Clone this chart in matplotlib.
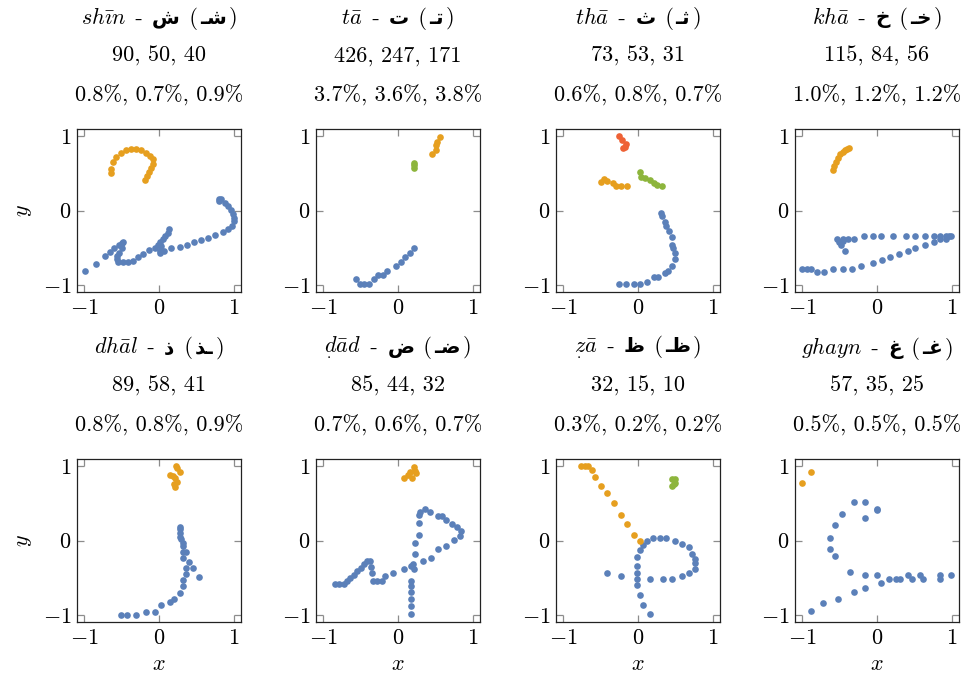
import numpy as np
import matplotlib
matplotlib.use("Agg")
import matplotlib.pyplot as plt
from matplotlib.offsetbox import TextArea, HPacker, AnchoredOffsetbox

plt.rcParams['mathtext.fontset'] = 'cm'
plt.rcParams['axes.unicode_minus'] = False

BLUE = '#5b80b9'
ORANGE = '#e69f1f'
GREEN = '#8db53c'
RED = '#ee6135'
stroke_colors = [BLUE, ORANGE, GREEN, RED]

# ---- letter names, counts, shares ----
names = [r'$sh\bar{\imath}n$', r'$t\bar{a}$', r'$th\bar{a}$', r'$kh\bar{a}$',
         r'$dh\bar{a}l$', r'$\underset{.}{d}\bar{a}d$', r'$\underset{.}{z}\bar{a}$', r'$ghayn$']
isolated = ['\uFEB5', '\uFE95', '\uFE99', '\uFEA5', '\uFEAB', '\uFEBD', '\uFEC5', '\uFECD']
# shaped forms written in visual (left-to-right) order
joined = ['\u0640\uFEB7', '\u0640\uFE97', '\u0640\uFE9B', '\u0640\uFEA7',
          '\uFEAC\u0640', '\u0640\uFEBF', '\u0640\uFEC7', '\u0640\uFECF']
counts = ['90, 50, 40', '426, 247, 171', '73, 53, 31', '115, 84, 56',
          '89, 58, 41', '85, 44, 32', '32, 15, 10', '57, 35, 25']
shares = ['0.8%, 0.7%, 0.9%', '3.7%, 3.6%, 3.8%', '0.6%, 0.8%, 0.7%', '1.0%, 1.2%, 1.2%',
          '0.8%, 0.8%, 0.9%', '0.7%, 0.6%, 0.7%', '0.3%, 0.2%, 0.2%', '0.5%, 0.5%, 0.5%']

# ---- strokes (x, y) ----
shin_1 = [(-0.99, -0.82), (-0.85, -0.72), (-0.73, -0.61), (-0.66, -0.56), (-0.61, -0.50),
          (-0.54, -0.47), (-0.50, -0.44), (-0.48, -0.42), (-0.50, -0.50), (-0.53, -0.57),
          (-0.56, -0.62), (-0.57, -0.66), (-0.55, -0.69), (-0.48, -0.70), (-0.42, -0.70),
          (-0.35, -0.68), (-0.28, -0.63), (-0.22, -0.59), (-0.13, -0.53), (-0.06, -0.50),
          (-0.02, -0.47), (0.02, -0.43), (0.05, -0.39), (0.08, -0.34), (0.12, -0.30),
          (0.14, -0.25), (0.03, -0.48), (0.01, -0.54), (0.02, -0.57), (0.07, -0.54),
          (0.16, -0.51), (0.28, -0.49), (0.37, -0.47), (0.47, -0.43), (0.56, -0.40),
          (0.66, -0.37), (0.75, -0.33), (0.86, -0.29), (0.92, -0.25), (0.98, -0.21),
          (1.01, -0.14), (1.01, -0.10), (0.99, -0.05), (0.96, 0.01), (0.92, 0.06),
          (0.88, 0.10), (0.83, 0.15), (0.81, 0.16), (0.80, 0.13)]
shin_2 = [(-0.64, 0.51), (-0.64, 0.56), (-0.62, 0.65), (-0.58, 0.72), (-0.51, 0.78),
          (-0.44, 0.81), (-0.37, 0.83), (-0.31, 0.83), (-0.24, 0.82), (-0.17, 0.78),
          (-0.12, 0.74), (-0.08, 0.69), (-0.08, 0.63), (-0.11, 0.57), (-0.14, 0.52),
          (-0.16, 0.46), (-0.19, 0.41)]

ta_1 = [(-0.56, -0.93), (-0.51, -0.99), (-0.45, -0.99), (-0.39, -0.99), (-0.32, -0.93),
        (-0.27, -0.87), (-0.20, -0.87), (-0.15, -0.81), (-0.03, -0.75), (0.04, -0.69),
        (0.10, -0.63), (0.16, -0.57), (0.21, -0.51)]
ta_2 = [(0.46, 0.76), (0.51, 0.81), (0.51, 0.88), (0.52, 0.93), (0.57, 0.99)]
ta_3 = [(0.21, 0.64), (0.21, 0.61), (0.21, 0.58)]

tha_1 = [(-0.26, -0.99), (-0.16, -0.99), (-0.06, -0.99), (0.03, -0.99), (0.12, -0.96),
         (0.21, -0.90), (0.27, -0.90), (0.36, -0.84), (0.40, -0.81), (0.46, -0.75),
         (0.50, -0.66), (0.50, -0.57), (0.47, -0.50), (0.46, -0.46), (0.46, -0.36),
         (0.41, -0.27), (0.38, -0.21), (0.36, -0.15), (0.32, -0.08), (0.31, -0.04)]
tha_2 = [(-0.50, 0.39), (-0.46, 0.43), (-0.41, 0.40), (-0.34, 0.37), (-0.30, 0.33),
         (-0.23, 0.33), (-0.15, 0.33)]
tha_3 = [(0.03, 0.52), (0.04, 0.45), (0.10, 0.44), (0.16, 0.41), (0.21, 0.37),
         (0.26, 0.34), (0.32, 0.33)]
tha_4 = [(-0.26, 1.00), (-0.21, 0.95), (-0.16, 0.90), (-0.20, 0.85), (-0.17, 0.86)]

kha_1 = [(-1.00, -0.79), (-0.94, -0.79), (-0.88, -0.79), (-0.80, -0.83), (-0.71, -0.83),
         (-0.59, -0.79), (-0.46, -0.79), (-0.34, -0.79), (-0.22, -0.75), (-0.06, -0.71),
         (0.07, -0.67), (0.18, -0.63), (0.30, -0.59), (0.42, -0.55), (0.51, -0.50),
         (0.64, -0.47), (0.76, -0.43), (0.84, -0.39), (0.92, -0.38), (0.97, -0.35),
         (0.99, -0.35), (0.92, -0.35), (0.84, -0.35), (0.76, -0.35), (0.64, -0.35),
         (0.51, -0.35), (0.39, -0.35), (0.22, -0.35), (0.06, -0.35), (-0.06, -0.35),
         (-0.18, -0.35), (-0.31, -0.38), (-0.39, -0.38), (-0.45, -0.38), (-0.54, -0.38),
         (-0.51, -0.43), (-0.48, -0.47), (-0.43, -0.55), (-0.45, -0.41)]
kha_2 = [(-0.59, 0.55), (-0.58, 0.60), (-0.55, 0.65), (-0.52, 0.71), (-0.50, 0.76),
         (-0.46, 0.79), (-0.43, 0.81), (-0.40, 0.83), (-0.38, 0.84)]

dhal_1 = [(-0.51, -1.00), (-0.43, -1.00), (-0.31, -1.00), (-0.18, -0.96), (-0.06, -0.96),
          (0.03, -0.87), (0.15, -0.83), (0.20, -0.79), (0.28, -0.71), (0.32, -0.62),
          (0.32, -0.53), (0.36, -0.45), (0.36, -0.37), (0.45, -0.37), (0.53, -0.49),
          (0.40, -0.29), (0.36, -0.16), (0.32, -0.16), (0.32, -0.24), (0.32, -0.08),
          (0.32, -0.03), (0.30, 0.02), (0.28, 0.05), (0.28, 0.10), (0.28, 0.15), (0.28, 0.18)]
dhal_2 = [(0.21, 0.72), (0.20, 0.76), (0.24, 0.79), (0.21, 0.84), (0.15, 0.89),
          (0.28, 0.92), (0.24, 0.98), (0.23, 1.01), (0.19, 0.87)]

dad_1 = [(-0.84, -0.59), (-0.79, -0.59), (-0.73, -0.59), (-0.68, -0.55), (-0.64, -0.50),
         (-0.59, -0.46), (-0.55, -0.41), (-0.50, -0.37), (-0.46, -0.32), (-0.42, -0.28),
         (-0.38, -0.28), (-0.36, -0.36), (-0.35, -0.44), (-0.34, -0.54), (-0.28, -0.54),
         (-0.22, -0.54), (-0.17, -0.48), (-0.07, -0.44), (0.08, -0.38), (0.18, -0.34),
         (0.22, -0.38), (0.33, -0.28), (0.44, -0.23), (0.53, -0.12), (0.64, -0.08),
         (0.75, 0.01), (0.83, 0.06), (0.84, 0.13), (0.79, 0.18), (0.72, 0.22),
         (0.65, 0.27), (0.59, 0.33), (0.53, 0.33), (0.43, 0.39), (0.36, 0.43),
         (0.30, 0.39), (0.28, 0.34), (0.28, 0.23), (0.28, 0.08), (0.23, -0.04),
         (0.23, -0.18), (0.20, -0.32), (0.18, -0.54), (0.18, -0.61), (0.18, -0.69),
         (0.18, -0.79), (0.18, -0.89), (0.18, -0.99)]
dad_2 = [(0.08, 0.84), (0.13, 0.89), (0.16, 0.93), (0.21, 0.99), (0.23, 0.94),
         (0.19, 0.84), (0.24, 0.91)]

za_1 = [(0.07, -0.06), (0.12, 0.00), (0.20, 0.04), (0.29, 0.04), (0.38, 0.04),
        (0.50, 0.00), (0.59, -0.05), (0.68, -0.09), (0.72, -0.18), (0.77, -0.25),
        (0.77, -0.31), (0.77, -0.39), (0.68, -0.44), (0.59, -0.48), (0.46, -0.52),
        (0.33, -0.52), (0.16, -0.52), (0.03, -0.13), (-0.02, -0.22), (-0.02, -0.35),
        (-0.02, -0.44), (-0.02, -0.52), (-0.02, -0.60), (0.03, -0.74), (0.07, -0.87),
        (0.16, -0.99), (-0.41, -0.44), (-0.23, -0.48)]
za_2 = [(-0.76, 1.00), (-0.71, 1.00), (-0.67, 1.00), (-0.62, 0.95), (-0.58, 0.86),
        (-0.49, 0.73), (-0.41, 0.64), (-0.32, 0.51), (-0.23, 0.34), (-0.15, 0.22),
        (-0.06, 0.08), (0.03, 0.00)]
za_3 = [(0.46, 0.83), (0.46, 0.74), (0.50, 0.78), (0.49, 0.83), (0.48, 0.76)]

ghayn_1 = [(-0.89, -0.95), (-0.73, -0.84), (-0.52, -0.79), (-0.31, -0.69), (-0.16, -0.64),
           (-0.36, -0.42), (-0.16, -0.47), (0.00, -0.47), (0.06, -0.58), (0.16, -0.52),
           (0.26, -0.52), (0.31, -0.52), (0.42, -0.47), (0.47, -0.52), (0.58, -0.47),
           (0.62, -0.52), (0.84, -0.47), (0.84, -0.52), (0.99, -0.47),
           (-0.57, -0.21), (-0.63, -0.11), (-0.63, 0.04), (-0.57, 0.21), (-0.47, 0.36),
           (-0.31, 0.52), (-0.16, 0.52), (-0.16, 0.31), (0.00, 0.42), (0.00, 0.41)]
ghayn_2 = [(-1.00, 0.78), (-0.89, 0.93)]

panels = [[shin_1, shin_2], [ta_1, ta_2, ta_3], [tha_1, tha_2, tha_3, tha_4], [kha_1, kha_2],
          [dhal_1, dhal_2], [dad_1, dad_2], [za_1, za_2, za_3], [ghayn_1, ghayn_2]]

W, H = 967, 679
fig = plt.figure(figsize=(W / 100, H / 100), dpi=100)

col_left = [77, 316, 556, 795]
row_top = [129, 459]
ax_w, ax_h = 164, 163
fs = 16
cm_txt = dict(family='cmr10', fontsize=fs)
ar_txt = dict(family='DejaVu Sans', weight='bold', fontsize=fs - 1.5)

for i, strokes in enumerate(panels):
    r, c = divmod(i, 4)
    left, top = col_left[c], row_top[r]
    ax = fig.add_axes([left / W, 1 - (top + ax_h) / H, ax_w / W, ax_h / H])
    for k, s in enumerate(strokes):
        pts = np.array(s)
        ax.plot(pts[:, 0], pts[:, 1], 'o', color=stroke_colors[k], markersize=4.8,
                markeredgewidth=0)
    ax.set_xlim(-1.1, 1.1)
    ax.set_ylim(-1.1, 1.1)
    ax.set_xticks([-1, 0, 1])
    ax.set_yticks([-1, 0, 1])
    ax.set_xticklabels([r'$-1$', r'$0$', r'$1$'])
    ax.set_yticklabels([r'$-1$', r'$0$', r'$1$'])
    ax.tick_params(direction='in', length=5, width=0.9, color='#8c8c8c',
                   top=True, right=True, labelsize=fs, pad=4)
    for sp in ax.spines.values():
        sp.set_linewidth(0.9)
        sp.set_color('#222222')
    if c == 0:
        ax.set_ylabel(r'$y$', fontsize=fs, labelpad=6)
    if r == 1:
        ax.set_xlabel(r'$x$', fontsize=fs, labelpad=5)

    cx = (left + ax_w / 2) / W
    # header line 1: transliteration, isolated and joined letter
    parts = [TextArea(names[i], textprops=dict(fontsize=fs)),
             TextArea(' - ', textprops=cm_txt),
             TextArea(isolated[i], textprops=ar_txt),
             TextArea(' (', textprops=cm_txt),
             TextArea(joined[i], textprops=ar_txt),
             TextArea(')', textprops=cm_txt)]
    box = HPacker(children=parts, align='baseline', pad=0, sep=1.5)
    anchored = AnchoredOffsetbox(loc='center', child=box, frameon=False, pad=0, borderpad=0,
                                 bbox_to_anchor=(cx, 1 - (top - 111) / H),
                                 bbox_transform=fig.transFigure)
    fig.add_artist(anchored)
    fig.text(cx, 1 - (top - 73) / H, counts[i], ha='center', va='center', **cm_txt)
    fig.text(cx, 1 - (top - 34) / H, shares[i], ha='center', va='center', **cm_txt)

fig.savefig('out.png', dpi=100)
